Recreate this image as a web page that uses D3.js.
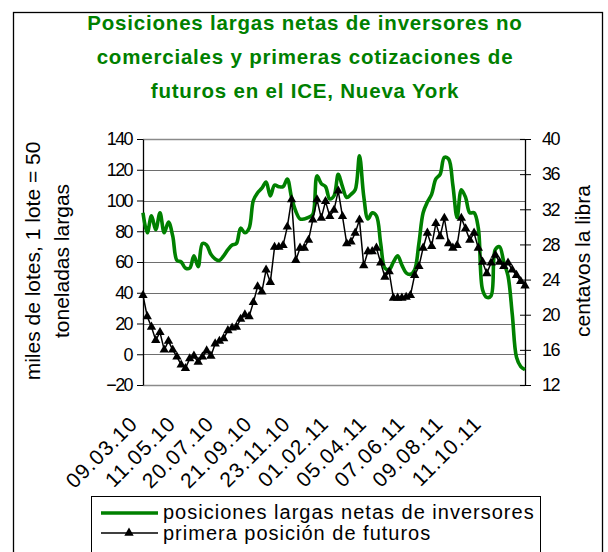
<!DOCTYPE html>
<html>
<head>
<meta charset="utf-8">
<script src="https://cdn.jsdelivr.net/npm/d3@7/dist/d3.min.js"></script>
<style>
  html, body { margin: 0; padding: 0; background: #fff; }
  svg { display: block; font-family: "Liberation Sans", Arial, sans-serif; }
</style>
</head>
<body>
<svg id="chart" width="608" height="552"></svg>
<script>
// ---------------- DATA ----------------
const titleLines = [
  "Posiciones largas netas de inversores no",
  "comerciales y primeras cotizaciones de",
  "futuros en el ICE, Nueva York"
];
const tickLabels = ["09.03.10", "11.05.10", "20.07.10", "21.09.10", "23.11.10",
                    "01.02.11", "05.04.11", "07.06.11", "09.08.11", "11.10.11"];
const tickEvery = 9; // a label every 9 weekly categories
const seriesNames = ["posiciones largas netas de inversores", "primera posición de futuros"];

// Net long positions of non-commercial investors (thousand lots) – left axis
const netLong = [
  92, 79, 90, 81, 92, 79, 86, 77, 61, 60,
  56, 56, 64, 57, 72, 71, 65, 62, 61, 64,
  68, 71, 72, 82, 79, 82, 100, 105, 108, 112,
  103, 110, 109, 109, 114, 102, 93, 88, 88, 89,
  91, 116, 111, 109, 101, 103, 117, 109, 102, 104,
  107, 129, 103, 88, 92, 90, 72, 56, 55, 60,
  64, 58, 53, 52, 55, 72, 92, 99, 104, 114,
  117, 128, 127, 110, 89, 107, 102, 92, 92, 82,
  42, 37, 38, 68, 70, 60, 51, 26, -2, -8,
  -10
];
// Nearby futures price (US cents per lb) – right axis
const nearbyPrice = [
  22.2, 19.8, 18.6, 17.1, 18.0, 16.0, 17.0, 16.0, 15.2, 14.3,
  13.9, 15.0, 15.3, 14.6, 15.2, 15.9, 15.3, 16.7, 17.0, 17.3,
  18.2, 18.5, 18.6, 19.5, 20.0, 19.8, 21.4, 23.2, 22.6, 25.1,
  23.7, 27.7, 27.7, 27.9, 30.0, 33.1, 26.2, 27.6, 27.6, 28.5,
  30.8, 33.1, 31.0, 32.9, 31.2, 31.9, 34.1, 31.2, 28.1, 28.3,
  29.3, 30.8, 25.6, 27.2, 27.2, 27.6, 25.9, 24.3, 24.9, 21.9,
  21.9, 21.9, 22.0, 22.2, 24.5, 25.5, 27.6, 29.3, 27.8, 30.4,
  28.9, 31.0, 28.1, 27.6, 27.9, 31.0, 29.8, 28.5, 29.3, 27.6,
  26.0, 24.7, 25.9, 26.8, 26.0, 25.5, 25.9, 25.1, 24.5, 23.8,
  23.3
];
const leftTicks = [-20, 0, 20, 40, 60, 80, 100, 120, 140];
const rightTicks = [12, 16, 20, 24, 28, 32, 36, 40];
const leftTitle = ["miles de lotes, 1 lote = 50", "toneladas largas"];
const rightTitle = "centavos la libra";

// ---------------- LAYOUT ----------------
const W = 608, H = 552;
const plot = { left: 143, right: 525, top: 139, bottom: 385 };
const GREEN = "#008000";

const svg = d3.select("#chart");
svg.append("rect").attr("width", W).attr("height", H).attr("fill", "#fff");

// outer frame
svg.append("rect")
  .attr("x", 13.5).attr("y", 12.5).attr("width", 589).attr("height", 560)
  .attr("fill", "none").attr("stroke", "#000").attr("stroke-width", 1.3);

// title
const titleY = [30, 64, 98];
svg.append("g").selectAll("text").data(titleLines).join("text")
  .attr("x", 305).attr("y", (d, i) => titleY[i])
  .attr("text-anchor", "middle")
  .attr("font-size", 20.5).attr("font-weight", "bold")
  .attr("letter-spacing", 0.8)
  .attr("fill", GREEN)
  .text(d => d);

// scales
const idx = d3.range(netLong.length);
const x = d3.scalePoint().domain(idx).range([plot.left, plot.right]);
const yL = d3.scaleLinear().domain([-20, 140]).range([plot.bottom, plot.top]);
const yR = d3.scaleLinear().domain([12, 40]).range([plot.bottom, plot.top]);

// gridlines (incl. top border and bottom)
svg.append("g").selectAll("line").data(leftTicks).join("line")
  .attr("x1", plot.left).attr("x2", plot.right)
  .attr("y1", d => Math.round(yL(d)) + 0.5).attr("y2", d => Math.round(yL(d)) + 0.5)
  .attr("stroke", d => (d === 140 || d === -20) ? "#8a8a8a" : "#6e6e6e")
  .attr("stroke-width", d => (d === 140 || d === -20) ? 1.6 : 1);

// left axis
const gL = svg.append("g").attr("transform", `translate(${plot.left},0)`)
  .call(d3.axisLeft(yL).tickValues(leftTicks).tickSize(6).tickSizeOuter(0).tickPadding(5));
gL.select(".domain").attr("stroke", "#000").attr("stroke-width", 1.3);
gL.selectAll(".tick line").attr("stroke", "#000");
gL.selectAll(".tick text")
  .attr("font-size", 18).attr("letter-spacing", -1.6)
  .attr("font-family", "Liberation Sans, Arial, sans-serif")
  .attr("fill", "#000");

// right axis
const gR = svg.append("g").attr("transform", `translate(${plot.right},0)`)
  .call(d3.axisRight(yR).tickValues(rightTicks).tickSize(6).tickSizeOuter(0).tickPadding(11));
gR.select(".domain").attr("stroke", "#000").attr("stroke-width", 1.3);
gR.selectAll(".tick line").attr("x1", -5).attr("x2", 6).attr("stroke", "#000");
gR.selectAll(".tick text")
  .attr("font-size", 18).attr("letter-spacing", -1.6)
  .attr("font-family", "Liberation Sans, Arial, sans-serif")
  .attr("fill", "#000");

// x labels (rotated)
const labelIdx = tickLabels.map((d, i) => i * tickEvery);
svg.append("g").selectAll("text").data(tickLabels).join("text")
  .attr("transform", (d, i) => `translate(${x(labelIdx[i]) - 4},${plot.bottom + 40}) rotate(-45)`)
  .attr("text-anchor", "end")
  .attr("font-size", 21).attr("letter-spacing", 1.2)
  .attr("fill", "#000")
  .text(d => d);

// green smoothed line
svg.append("path")
  .datum(netLong)
  .attr("fill", "none").attr("stroke", GREEN).attr("stroke-width", 3.6)
  .attr("stroke-linejoin", "round")
  .attr("d", d3.line().x((d, i) => x(i)).y(d => yL(d)).curve(d3.curveCatmullRom.alpha(0.5)));

// black price line with triangles
svg.append("path")
  .datum(nearbyPrice)
  .attr("fill", "none").attr("stroke", "#000").attr("stroke-width", 1.5)
  .attr("d", d3.line().x((d, i) => x(i)).y(d => yR(d)));
const tri = d3.symbol().type(d3.symbolTriangle).size(38);
svg.append("g").selectAll("path").data(nearbyPrice).join("path")
  .attr("transform", (d, i) => `translate(${x(i)},${yR(d)})`)
  .attr("d", tri).attr("fill", "#000");

// axis titles
svg.append("g").selectAll("text").data(leftTitle).join("text")
  .attr("transform", (d, i) => `translate(${[40, 69][i]},261) rotate(-90)`)
  .attr("text-anchor", "middle").attr("font-size", 21).attr("fill", "#000")
  .text(d => d);
svg.append("text")
  .attr("transform", `translate(590,261) rotate(-90)`)
  .attr("text-anchor", "middle").attr("font-size", 21).attr("fill", "#000")
  .text(rightTitle);

// legend
const lg = svg.append("g");
lg.append("rect").attr("x", 91.5).attr("y", 496.5).attr("width", 449).attr("height", 70)
  .attr("fill", "#fff").attr("stroke", "#000").attr("stroke-width", 1);
lg.append("line").attr("x1", 101).attr("x2", 158).attr("y1", 513).attr("y2", 513)
  .attr("stroke", GREEN).attr("stroke-width", 3.6);
lg.append("line").attr("x1", 101).attr("x2", 158).attr("y1", 533).attr("y2", 533)
  .attr("stroke", "#000").attr("stroke-width", 1.5);
lg.append("path").attr("transform", "translate(129,533)").attr("d", tri).attr("fill", "#000");
lg.selectAll("text.lt").data(seriesNames).join("text")
  .attr("class", "lt")
  .attr("x", 163).attr("y", (d, i) => [519, 540][i])
  .attr("font-size", 20).attr("letter-spacing", 1.0).attr("fill", "#000")
  .text(d => d);
</script>
</body>
</html>
